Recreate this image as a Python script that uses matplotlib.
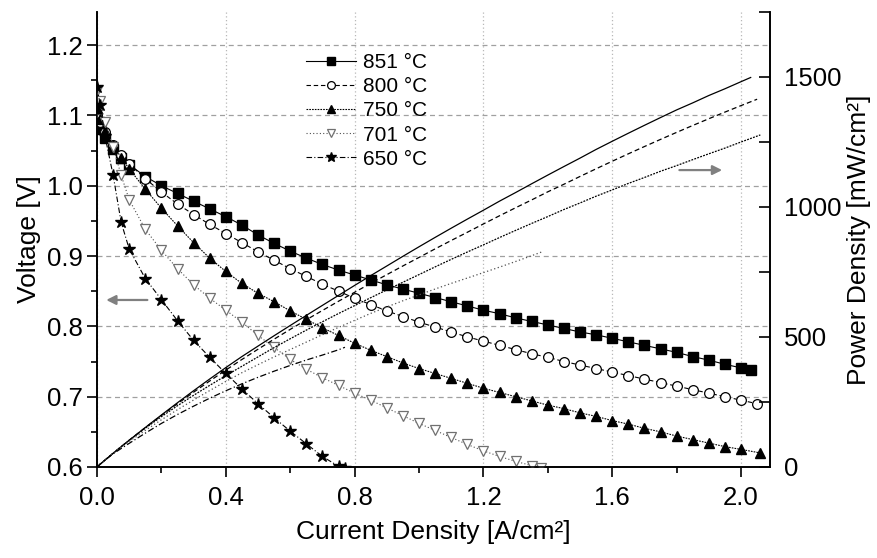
import matplotlib
matplotlib.use("Agg")
import matplotlib.pyplot as plt
from matplotlib.ticker import MultipleLocator, FormatStrFormatter

plt.rcParams['font.family'] = ['Liberation Sans', 'DejaVu Sans']

# current density sampling points [A/cm²]
current = [0.0, 0.01, 0.025, 0.05, 0.075, 0.1, 0.15, 0.2, 0.25, 0.3, 0.35, 0.4,
           0.45, 0.5, 0.55, 0.6, 0.65, 0.7, 0.75, 0.8, 0.85, 0.9, 0.95, 1.0,
           1.05, 1.1, 1.15, 1.2, 1.25, 1.3, 1.35, 1.4, 1.45, 1.5, 1.55, 1.6,
           1.65, 1.7, 1.75, 1.8, 1.85, 1.9, 1.95, 2.0]

# cell voltage [V] for each temperature
v_851 = [1.090, 1.080, 1.068, 1.052, 1.040, 1.030, 1.013, 1.000, 0.989, 0.978,
         0.967, 0.956, 0.944, 0.930, 0.918, 0.907, 0.897, 0.888, 0.880, 0.873,
         0.866, 0.859, 0.853, 0.847, 0.841, 0.835, 0.829, 0.823, 0.818, 0.812,
         0.807, 0.802, 0.797, 0.792, 0.788, 0.783, 0.778, 0.773, 0.768, 0.763,
         0.757, 0.752, 0.746, 0.741, 0.738]
v_800 = [1.100, 1.090, 1.076, 1.058, 1.043, 1.031, 1.010, 0.991, 0.974, 0.959,
         0.945, 0.932, 0.919, 0.906, 0.894, 0.882, 0.871, 0.860, 0.850, 0.840,
         0.831, 0.822, 0.814, 0.806, 0.799, 0.792, 0.785, 0.779, 0.773, 0.767,
         0.761, 0.756, 0.750, 0.745, 0.740, 0.735, 0.730, 0.725, 0.720, 0.715,
         0.710, 0.705, 0.700, 0.695, 0.690]
v_750 = [1.110, 1.095, 1.078, 1.058, 1.040, 1.024, 0.995, 0.968, 0.943, 0.919,
         0.897, 0.878, 0.861, 0.847, 0.835, 0.822, 0.810, 0.798, 0.787, 0.776,
         0.766, 0.757, 0.748, 0.740, 0.733, 0.726, 0.719, 0.712, 0.706, 0.700,
         0.694, 0.688, 0.683, 0.677, 0.672, 0.666, 0.661, 0.655, 0.650, 0.644,
         0.639, 0.634, 0.629, 0.625, 0.620]
v_701 = [1.135, 1.120, 1.090, 1.055, 1.015, 0.980, 0.938, 0.908, 0.882, 0.859,
         0.840, 0.823, 0.806, 0.787, 0.770, 0.753, 0.739, 0.727, 0.716, 0.705,
         0.695, 0.684, 0.673, 0.662, 0.652, 0.642, 0.632, 0.623, 0.615, 0.608,
         0.602, 0.599]
v_650 = [1.140, 1.115, 1.070, 1.015, 0.948, 0.910, 0.868, 0.838, 0.808, 0.780,
         0.756, 0.733, 0.711, 0.690, 0.670, 0.651, 0.633, 0.615, 0.601, 0.598]

# last measured current of each curve
i_end = {'851': 2.03, '800': 2.05, '750': 2.06, '701': 1.38, '650': 0.77}

labels = ['851 °C', '800 °C', '750 °C', '701 °C', '650 °C']


def curve_current(n_volt, end):
    """Current points matching a voltage list (grid plus final point)."""
    return current[:n_volt - 1] + [end]


fig = plt.figure(figsize=(8.77, 5.58), dpi=100)
ax = fig.add_axes([97 / 877, 91 / 558, 673 / 877, 455 / 558])
ax2 = ax.twinx()

styles = [
    dict(ls='-', marker='s', mfc='black', mec='black', ms=6.5, color='black'),
    dict(ls=(0, (4, 2.5)), marker='o', mfc='white', mec='black', ms=7.0, mew=0.9, color='black'),
    dict(ls=(0, (1.5, 1)), marker='^', mfc='black', mec='black', ms=7.5, color='black'),
    dict(ls=(0, (1, 2)), marker='v', mfc='white', mec='#707070', ms=7.5, mew=0.9, color='#505050'),
    dict(ls=(0, (5, 2, 1, 2)), marker='*', mfc='black', mec='black', ms=9.0, color='black'),
]
volts = [v_851, v_800, v_750, v_701, v_650]
keys = ['851', '800', '750', '701', '650']

handles = []
for v, key, st, lab in zip(volts, keys, styles, labels):
    i_vals = curve_current(len(v), i_end[key])
    h, = ax.plot(i_vals, v, lw=0.8, label=lab, zorder=3, **st)
    handles.append(h)
    power = [i * u * 1000 for i, u in zip(i_vals, v)]
    ax2.plot(i_vals, power, ls=st['ls'], color=st['color'], lw=0.9)

ax.set_xlim(0, 2.09)
ax.set_ylim(0.6, 1.247)
ax2.set_ylim(0, 1750)

ax.xaxis.set_major_locator(MultipleLocator(0.4))
ax.xaxis.set_minor_locator(MultipleLocator(0.2))
ax.xaxis.set_major_formatter(FormatStrFormatter('%.1f'))
ax.yaxis.set_major_locator(MultipleLocator(0.1))
ax.yaxis.set_minor_locator(MultipleLocator(0.05))
ax.yaxis.set_major_formatter(FormatStrFormatter('%.1f'))
ax2.yaxis.set_major_locator(MultipleLocator(500))
ax2.yaxis.set_minor_locator(MultipleLocator(250))

ax.grid(axis='y', which='major', color='#a0a0a0', ls=(0, (4, 3)), lw=0.9)
ax.grid(axis='x', which='major', color='#b8b8b8', ls=(0, (1, 2)), lw=0.9)
ax.set_axisbelow(True)

for a in (ax, ax2):
    a.spines['top'].set_visible(False)
    for s in ('left', 'right', 'bottom'):
        a.spines[s].set_linewidth(1.2)

ax.tick_params(axis='both', which='major', direction='out', length=7, width=1.2,
               labelsize=18.5)
ax.tick_params(axis='x', which='major', pad=7)
ax.tick_params(axis='both', which='minor', direction='out', length=4, width=1.2)
ax2.tick_params(axis='y', which='both', direction='in', length=8, width=1.2,
                labelsize=18.5, pad=10)

ax.set_xlabel('Current Density [A/cm²]', fontsize=19, labelpad=7)
ax.set_ylabel('Voltage [V]', fontsize=19, labelpad=4)
ax2.set_ylabel('Power Density [mW/cm²]', fontsize=19, labelpad=4)

# arrows pointing to the matching axis
ax.annotate('', xy=(0.02, 0.8375), xytext=(0.165, 0.8375),
            arrowprops=dict(arrowstyle='-|>', color='#808080', lw=1.6,
                            mutation_scale=14))
ax2.annotate('', xy=(1.95, 1142), xytext=(1.80, 1142),
             arrowprops=dict(arrowstyle='-|>', color='#808080', lw=1.6,
                             mutation_scale=14))

ax.legend(handles=handles, loc='upper left', bbox_to_anchor=(0.311, 0.91),
          frameon=False, fontsize=15, handlelength=2.4, handletextpad=0.3,
          labelspacing=0.25, borderpad=0, borderaxespad=0, numpoints=1,
          markerscale=0.8)

fig.savefig('out.png', dpi=100)
